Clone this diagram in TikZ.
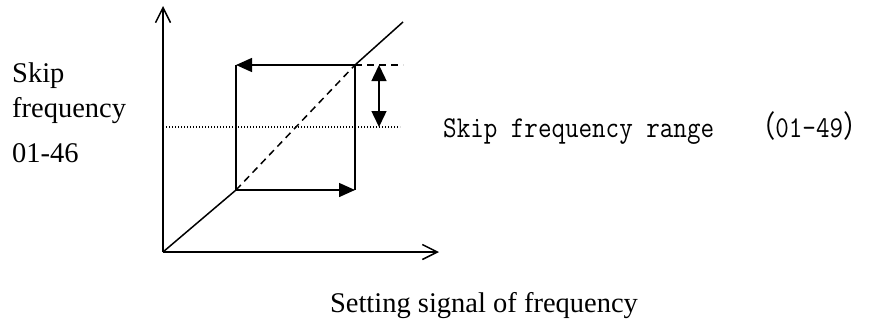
\documentclass[tikz,border=0pt]{standalone}
\usepackage{fontspec}
\usepackage{graphicx}
\setmainfont{Liberation Serif}
\newfontfamily\cjk{Noto Sans CJK SC}
\usetikzlibrary{arrows.meta}
\tikzset{
  axisline/.style={line width=1.5pt,-{Straight Barb[length=15pt,width=15pt]}},
  solidline/.style={line width=1.5pt},
  dashline/.style={line width=1.5pt,dash pattern=on 7pt off 5pt},
  dotline/.style={line width=1.1pt,dash pattern=on 1.1pt off 1.9pt},
  flowarrow/.style={line width=1.5pt,-{Triangle[length=16pt,width=14pt]}},
  rangearrow/.style={line width=1.5pt,{Triangle[length=16pt,width=15pt]}-{Triangle[length=16pt,width=15pt]}},
  serif/.style={font=\fontsize{28.5}{34}\selectfont,inner sep=0pt},
  mono/.style={inner sep=0pt}
}
\begin{document}
\begin{tikzpicture}[x=1pt,y=-1pt]
\useasboundingbox (0,0) rectangle (875,324);
% key points
\coordinate (O) at (163,252);
\coordinate (Ytip) at (163,6);
\coordinate (Xtip) at (439,252);
\coordinate (A) at (236,190);
\coordinate (B) at (355,190);
\coordinate (C) at (355,65);
\coordinate (D) at (236,65);
\coordinate (E) at (403,22);
\coordinate (F) at (403,65);
\coordinate (G) at (379,65);
\coordinate (H) at (379,127);
\coordinate (P) at (166,127);
\coordinate (Q) at (400,127);
% axes
\draw[axisline] (O) -- (Ytip);
\draw[axisline] (O) -- (Xtip);
% diagonal
\draw[solidline] (O) -- (A);
\draw[dashline] (A) -- (C);
\draw[solidline] (C) -- (E);
% box
\draw[solidline] (D) -- (A);
\draw[solidline] (C) -- (B);
\draw[flowarrow] (C) -- (D);
\draw[flowarrow] (A) -- (B);
% range
\draw[dashline] (C) -- (F);
\draw[dotline] (P) -- (Q);
\draw[rangearrow] (G) -- (H);
% texts
\node[serif,anchor=base west] (t1) at (12,82) {Skip};
\node[serif,anchor=base west] (t2) at (12,117) {frequency};
\node[serif,anchor=base west] (t3) at (12,162) {01-46};
\node[serif,anchor=base] (t4) at (484,312) {Setting signal of frequency};
\node[mono,anchor=base west] (t5) at (443,137) {\scalebox{1}[1.15]{\ttfamily\fontsize{26.3}{26}\selectfont Skip frequency range\hspace{35pt}{\cjk （}01-49{\cjk ）}}};
\end{tikzpicture}
\end{document}
